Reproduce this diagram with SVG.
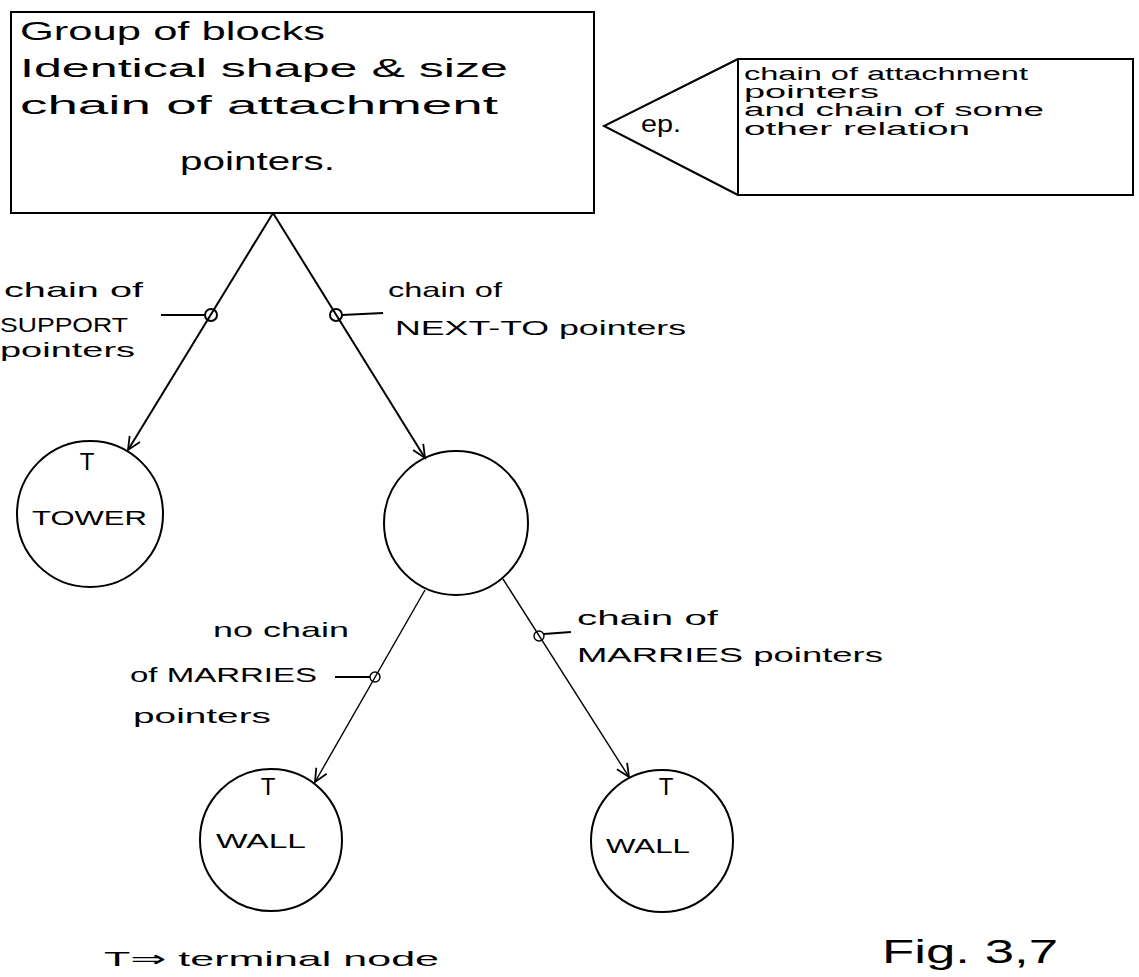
<svg xmlns="http://www.w3.org/2000/svg" width="1139" height="977" viewBox="0 0 1139 977">
<style>
.shape{fill:none;stroke:#000;stroke-width:2}
.thin{fill:none;stroke:#000;stroke-width:1.4}
text{font-family:"Liberation Sans","DejaVu Sans",sans-serif;fill:#000}
.big{font-size:25px}
.mid{font-size:18px}
.lab{font-size:21px}
</style>
<defs>
<marker id="arr" markerUnits="userSpaceOnUse" markerWidth="30" markerHeight="30" refX="0" refY="0" viewBox="-15 -15 30 30" orient="auto">
<path d="M-13,-6 L0,0 L-13,6" fill="none" stroke="#000" stroke-width="1.8"/>
</marker>
</defs>
<rect width="1139" height="977" fill="#fff"/>
<g id="main-box">
<rect class="shape" x="11" y="12" width="583" height="201"/>
<text class="big" x="20" y="40" textLength="305" lengthAdjust="spacingAndGlyphs">Group of blocks</text>
<text class="big" x="20" y="77" textLength="488" lengthAdjust="spacingAndGlyphs">Identical shape &amp; size</text>
<text class="big" x="20" y="114" textLength="478" lengthAdjust="spacingAndGlyphs">chain of attachment</text>
<text class="big" x="180" y="170" textLength="155" lengthAdjust="spacingAndGlyphs">pointers.</text>
</g>
<g id="ep-note">
<path class="shape" d="M738,59 L604,126 L738,195"/>
<rect class="shape" x="738" y="59" width="395" height="136"/>
<text x="641" y="132" font-size="24" textLength="40" lengthAdjust="spacingAndGlyphs">ep.</text>
<text class="mid" x="744" y="80" textLength="284" lengthAdjust="spacingAndGlyphs">chain of attachment</text>
<text class="mid" x="744" y="98" textLength="135" lengthAdjust="spacingAndGlyphs">pointers</text>
<text class="mid" x="744" y="116" textLength="300" lengthAdjust="spacingAndGlyphs">and chain of some</text>
<text class="mid" x="744" y="135" textLength="226" lengthAdjust="spacingAndGlyphs">other relation</text>
</g>
<g id="connectors">
<line class="shape" x1="273" y1="213" x2="128" y2="450" marker-end="url(#arr)"/>
<line class="shape" x1="273" y1="213" x2="425" y2="458" marker-end="url(#arr)"/>
<line class="thin" x1="425" y1="590" x2="315" y2="782" marker-end="url(#arr)"/>
<line class="thin" x1="503" y1="579" x2="629" y2="777" marker-end="url(#arr)"/>
<circle class="shape" cx="211" cy="315" r="6"/>
<line class="shape" x1="161" y1="315" x2="205" y2="315"/>
<circle class="shape" cx="336" cy="315" r="6"/>
<line class="shape" x1="342" y1="315" x2="383" y2="313"/>
<circle class="thin" cx="375" cy="677" r="5"/>
<line class="shape" x1="335" y1="677" x2="370" y2="677"/>
<circle class="thin" cx="539" cy="636" r="5"/>
<line class="shape" x1="544" y1="634" x2="571" y2="632"/>
<text class="lab" x="4" y="297" textLength="139" lengthAdjust="spacingAndGlyphs">chain of</text>
<text class="lab" x="0" y="332" textLength="128" lengthAdjust="spacingAndGlyphs">SUPPORT</text>
<text class="lab" x="0" y="357" textLength="135" lengthAdjust="spacingAndGlyphs">pointers</text>
<text class="lab" x="388" y="297" textLength="114" lengthAdjust="spacingAndGlyphs">chain of</text>
<text class="lab" x="395" y="335" textLength="291" lengthAdjust="spacingAndGlyphs">NEXT-TO pointers</text>
<text class="lab" x="213" y="637" textLength="136" lengthAdjust="spacingAndGlyphs">no chain</text>
<text class="lab" x="130" y="682" textLength="187" lengthAdjust="spacingAndGlyphs">of MARRIES</text>
<text class="lab" x="133" y="723" textLength="138" lengthAdjust="spacingAndGlyphs">pointers</text>
<text class="lab" x="577" y="625" textLength="141" lengthAdjust="spacingAndGlyphs">chain of</text>
<text class="lab" x="577" y="662" textLength="306" lengthAdjust="spacingAndGlyphs">MARRIES pointers</text>
</g>
<g id="tower">
<circle class="shape" cx="90" cy="514" r="73"/>
<text x="87" y="470" font-size="24" text-anchor="middle">T</text>
<text class="lab" x="32" y="525" textLength="115" lengthAdjust="spacingAndGlyphs">TOWER</text>
</g>
<g id="middle">
<circle class="shape" cx="456" cy="523" r="72"/>
</g>
<g id="wall-left">
<circle class="shape" cx="271" cy="840" r="71"/>
<text x="268" y="795" font-size="24" text-anchor="middle">T</text>
<text class="lab" x="216" y="848" textLength="90" lengthAdjust="spacingAndGlyphs">WALL</text>
</g>
<g id="wall-right">
<circle class="shape" cx="662" cy="841" r="71"/>
<text x="666" y="795" font-size="24" text-anchor="middle">T</text>
<text class="lab" x="606" y="853" textLength="84" lengthAdjust="spacingAndGlyphs">WALL</text>
</g>
<g id="legend">
<text class="lab" x="104" y="966" textLength="335" lengthAdjust="spacingAndGlyphs">T⇒ terminal node</text>
<text x="882" y="963" font-size="34" textLength="176" lengthAdjust="spacingAndGlyphs">Fig. 3,7</text>
</g>
</svg>
